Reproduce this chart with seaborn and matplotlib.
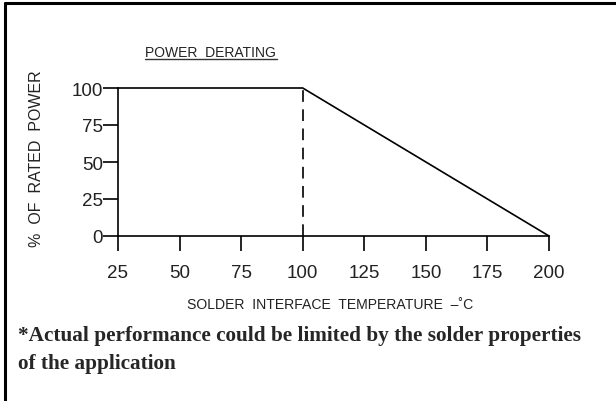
import matplotlib
matplotlib.use("Agg")
import matplotlib.pyplot as plt
from matplotlib.lines import Line2D
import seaborn as sns
import pandas as pd

# derating curve
temperature = [25, 100, 200]
rated_power = [100, 100, 0]
knee_temp = [100, 100]
knee_power = [0, 100]
x_ticks = [25, 50, 75, 100, 125, 150, 175, 200]
y_ticks = [0, 25, 50, 75, 100]

sns.set_style("ticks")
plt.rcParams['font.family'] = ['Liberation Sans', 'DejaVu Sans']

df = pd.DataFrame({"temp": temperature, "power": rated_power})
knee = pd.DataFrame({"temp": knee_temp, "power": knee_power})

fig = plt.figure(figsize=(6.16, 4.02), dpi=100)
ax = fig.add_axes([118 / 616, 1 - 237 / 402, 431 / 616, 148 / 402])

sns.lineplot(x="temp", y="power", data=df, color="black", linewidth=1.2,
             estimator=None, sort=False, ax=ax)
sns.lineplot(x="temp", y="power", data=knee, color="black", linewidth=1.2,
             estimator=None, sort=False, ax=ax)
ax.lines[-1].set_dashes([7, 4.5])
for ln in ax.lines:
    ln.set_clip_on(False)

ax.set_xlim(25, 200)
ax.set_ylim(0, 100)
ax.set_xticks(x_ticks)
ax.set_yticks(y_ticks)
ax.tick_params(axis="both", direction="out", length=11, width=1.2,
               color="black", labelsize=13.5, labelcolor="#222222")
ax.tick_params(axis="y", pad=0)
ax.tick_params(axis="x", pad=9)

for side in ["top", "right"]:
    ax.spines[side].set_visible(False)
for side in ["left", "bottom"]:
    ax.spines[side].set_linewidth(1.2)
    ax.spines[side].set_color("black")

ax.set_xlabel("SOLDER  INTERFACE  TEMPERATURE  \u2013\u02daC", fontsize=10.1,
              color="#222222")
ax.set_ylabel("%  OF  RATED  POWER", fontsize=11.5, color="#222222")
ax.xaxis.set_label_coords(0.492, -0.41)
ax.yaxis.set_label_coords(-0.172, 0.53)

# underlined heading
fig.text(145 / 616, 1 - 57 / 402, "POWER  DERATING", fontsize=10,
         color="#222222", ha="left", va="baseline")
fig.add_artist(Line2D([145 / 616, 277 / 616], [1 - 60 / 402, 1 - 60 / 402],
                      color="#333333", linewidth=1.0))

# footnote
serif = ["Liberation Serif", "DejaVu Serif"]
fig.text(18 / 616, 1 - 341 / 402,
         "*Actual performance could be limited by the solder properties",
         family=serif, fontweight="bold", fontsize=15.3,
         ha="left", va="baseline")
fig.text(18 / 616, 1 - 369 / 402, "of the application",
         family=serif, fontweight="bold", fontsize=15.3,
         ha="left", va="baseline")

# outer frame (left and top edges)
fig.add_artist(Line2D([5 / 616, 5 / 616], [0, 1 - 4 / 402], color="black",
                      linewidth=2.2))
fig.add_artist(Line2D([5 / 616, 1], [1 - 4 / 402, 1 - 4 / 402], color="black",
                      linewidth=2.2))

fig.savefig("out.png", dpi=100)
plt.close(fig)
